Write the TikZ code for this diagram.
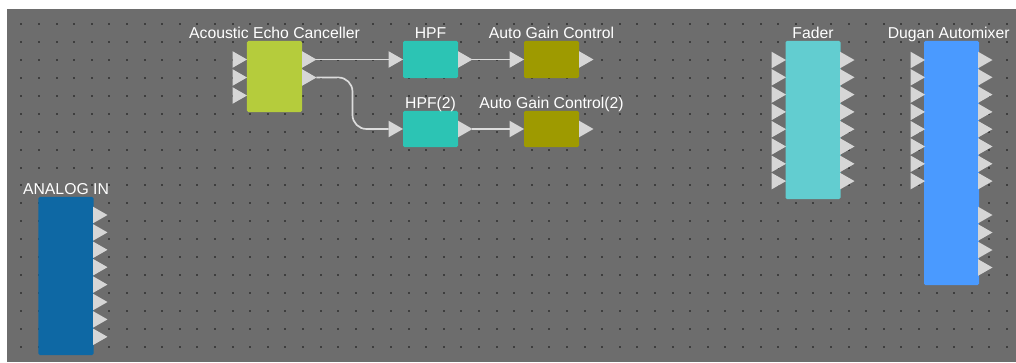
\documentclass[tikz,border=0pt]{standalone}
\usepackage{fontspec}
\setmainfont{Liberation Sans}
\usetikzlibrary{shapes.geometric}
\definecolor{canvas}{HTML}{6D6D6D}
\definecolor{dotgray}{HTML}{3E3E3E}
\definecolor{portgray}{HTML}{D6D6D6}
\definecolor{wiregray}{HTML}{DCDCDC}
\definecolor{aecgreen}{HTML}{B5CC3C}
\definecolor{hpfteal}{HTML}{2CC4B4}
\definecolor{agcolive}{HTML}{9E9A00}
\definecolor{fadercyan}{HTML}{62CDD0}
\definecolor{duganblue}{HTML}{4A9AFF}
\definecolor{analogblue}{HTML}{0E68A4}
\tikzstyle{blk}=[rectangle, rounded corners=1pt, minimum width=1.375cm, inner sep=0, outer sep=0]
\tikzstyle{port}=[isosceles triangle, isosceles triangle stretches, minimum width=11.8pt, minimum height=10.3pt, inner sep=0, outer sep=0, fill=portgray]
\tikzstyle{lbl}=[text=white, font=\fontsize{11.2}{12}\selectfont, inner sep=0, anchor=base]
\tikzstyle{wire}=[draw=wiregray, line width=1.2pt]

\begin{document}
\begin{tikzpicture}[x=0.025cm, y=-0.025cm]
\useasboundingbox (0,0) rectangle (1016,362);
\fill[white] (0,0) rectangle (1016,362);
\fill[canvas] (7,9) rectangle (1016,362);
\foreach \i in {0,...,56}{\foreach \j in {0,...,18}{\fill[dotgray] (20.3+17.6*\i,23.3+17.9*\j) rectangle +(2,2);}}
% blocks
\node[blk, fill=aecgreen, minimum height=1.775cm] (aec) at (274.5,76.5) {};
\node[blk, fill=hpfteal, minimum height=0.925cm] (hpf) at (430.5,59.5) {};
\node[blk, fill=hpfteal, minimum height=0.9cm] (hpf2) at (430.5,129) {};
\node[blk, fill=agcolive, minimum height=0.925cm] (agc) at (551.5,59.5) {};
\node[blk, fill=agcolive, minimum height=0.9cm] (agc2) at (551.5,129) {};
\node[blk, fill=fadercyan, minimum height=3.95cm] (fader) at (813,120) {};
\node[blk, fill=duganblue, minimum height=6.1cm] (dugan) at (951.5,163) {};
\node[blk, fill=analogblue, minimum height=3.95cm] (analog) at (66,276) {};
% ports
\foreach \i in {1,2,3}{\node[port, anchor=east] (aec-i\i) at (247,{41.5+18*\i}) {};}
\foreach \i in {1,2}{\node[port, anchor=west] (aec-o\i) at (302,{41.5+18*\i}) {};}
\node[port, anchor=east] (hpf-i) at (403,59.5) {};
\node[port, anchor=west] (hpf-o) at (458,59.5) {};
\node[port, anchor=east] (hpf2-i) at (403,129) {};
\node[port, anchor=west] (hpf2-o) at (458,129) {};
\node[port, anchor=east] (agc-i) at (524,59.5) {};
\node[port, anchor=west] (agc-o) at (579,59.5) {};
\node[port, anchor=east] (agc2-i) at (524,129) {};
\node[port, anchor=west] (agc2-o) at (579,129) {};
\foreach \i in {1,...,8}{
  \node[port, anchor=east] (fader-i\i) at (786,{42.7+17.3*\i}) {};
  \node[port, anchor=west] (fader-o\i) at (840,{42.7+17.3*\i}) {};
  \node[port, anchor=east] (dugan-i\i) at (925,{42.7+17.3*\i}) {};
  \node[port, anchor=west] (dugan-o\i) at (978,{42.7+17.3*\i}) {};
  \node[port, anchor=west] (analog-o\i) at (93,{197.6+17.4*\i}) {};}
\foreach \i in {9,...,12}{\node[port, anchor=west] (dugan-o\i) at (978,{57.5+17.5*\i}) {};}
% wires
\draw[wire] (aec-o1.east) -- (hpf-i.west);
\draw[wire, rounded corners=10pt] (aec-o2.east) -- ++(36,0) |- (hpf2-i.west);
\draw[wire] (hpf-o.east) -- (agc-i.west);
\draw[wire] (hpf2-o.east) -- (agc2-i.west);
% labels
\node[lbl] (aec-l) at ([yshift=2.1pt]aec.north) {Acoustic Echo Canceller};
\node[lbl] (hpf-l) at ([yshift=2.1pt]hpf.north) {HPF};
\node[lbl] (hpf2-l) at ([yshift=2.1pt]hpf2.north) {HPF(2)};
\node[lbl] (agc-l) at ([yshift=2.1pt]agc.north) {Auto Gain Control};
\node[lbl] (agc2-l) at ([yshift=2.1pt]agc2.north) {Auto Gain Control(2)};
\node[lbl] (fader-l) at ([yshift=2.1pt]fader.north) {Fader};
\node[lbl] (dugan-l) at ([yshift=2.1pt,xshift=-2pt]dugan.north) {Dugan Automixer};
\node[lbl] (analog-l) at ([yshift=2.1pt]analog.north) {ANALOG IN};
\end{tikzpicture}
\end{document}
